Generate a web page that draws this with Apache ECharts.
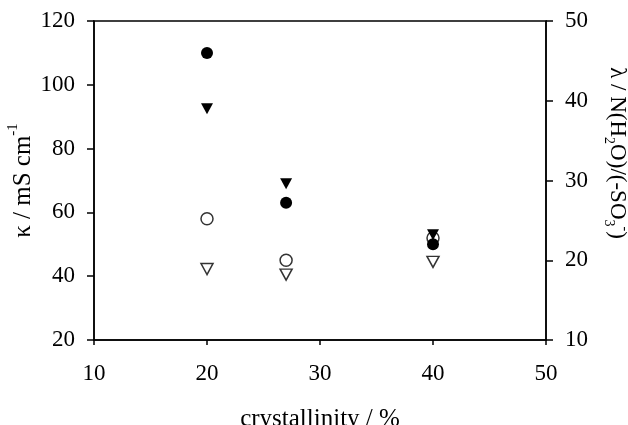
<!DOCTYPE html>
<html>
<head>
<meta charset="utf-8">
<script src="https://cdn.jsdelivr.net/npm/echarts@6/dist/echarts.min.js"></script>
<style>
  html, body { margin: 0; padding: 0; background: #fff; }
  #chart { width: 628px; height: 425px; }
</style>
</head>
<body>
<div id="chart"></div>
<script>
// crystallinity / %
const crystallinity = [20, 27, 40]
// kappa, left axis (mS cm-1)
const kappaFilled = [110, 63, 50]
const kappaOpen = [58, 45, 52]
// lambda, right axis
const lambdaFilled = [39, 29.6, 23.2]
const lambdaOpen = [18.9, 18.2, 19.8]

const xTicks = [10, 20, 30, 40, 50]
const leftTicks = [20, 40, 60, 80, 100, 120]
const rightTicks = [10, 20, 30, 40, 50]

const font = '"Liberation Serif", "Times New Roman", serif'

function pairs(xs, ys) {
  return xs.map((x, i) => [x, ys[i]])
}

const chart = echarts.init(document.getElementById('chart'))

const axisLine = { show: true, onZero: false, lineStyle: { color: '#000', width: 1.5 } }
const label = { color: '#000', fontFamily: font, fontSize: 23 }

chart.setOption({
  animation: false,
  grid: {
    left: 94, right: 82, top: 21, bottom: 85,
    containLabel: false,
    outerBoundsMode: 'none',
    show: true, borderColor: '#000', borderWidth: 1.5
  },
  xAxis: {
    type: 'value',
    min: xTicks[0], max: xTicks[xTicks.length - 1], interval: 10,
    name: 'crystallinity / %',
    nameLocation: 'middle',
    nameGap: 67,
    nameMoveOverlap: false,
    nameTextStyle: { color: '#000', fontFamily: font, fontSize: 25 },
    axisLine: axisLine,
    axisTick: { show: true, inside: false, length: 5, lineStyle: { color: '#000', width: 1.5 } },
    axisLabel: Object.assign({ margin: 22 }, label),
    splitLine: { show: false }
  },
  yAxis: [{
    type: 'value',
    position: 'left',
    min: leftTicks[0], max: leftTicks[leftTicks.length - 1], interval: 20,
    name: '{n|κ / mS cm}{s|-1}',
    nameLocation: 'middle',
    nameGap: 58,
    nameMoveOverlap: false,
    nameRotate: 90,
    nameTextStyle: {
      rich: {
        n: { color: '#000', fontFamily: font, fontSize: 25, lineHeight: 30, verticalAlign: 'bottom' },
        s: { color: '#000', fontFamily: font, fontSize: 15, lineHeight: 30, verticalAlign: 'top' }
      }
    },
    axisLine: axisLine,
    axisTick: { show: true, inside: false, length: 7, lineStyle: { color: '#000', width: 1.5 } },
    axisLabel: Object.assign({ margin: 19 }, label),
    splitLine: { show: false }
  }, {
    type: 'value',
    position: 'right',
    min: rightTicks[0], max: rightTicks[rightTicks.length - 1], interval: 10,
    name: '{n|λ / N(H}{b|2}{n|O)/(-SO}{b|3}{t|-}{n|)}',
    nameLocation: 'middle',
    nameGap: 56,
    nameMoveOverlap: false,
    nameRotate: -90,
    nameTextStyle: {
      padding: [0, 55, 0, 0],
      rich: {
        n: { color: '#000', fontFamily: font, fontSize: 23, lineHeight: 30 },
        b: { color: '#000', fontFamily: font, fontSize: 14, lineHeight: 30, verticalAlign: 'bottom' },
        t: { color: '#000', fontFamily: font, fontSize: 14, lineHeight: 30, verticalAlign: 'top' }
      }
    },
    axisLine: axisLine,
    axisTick: { show: true, inside: false, length: 7, lineStyle: { color: '#000', width: 1.5 } },
    axisLabel: Object.assign({ margin: 19 }, label),
    splitLine: { show: false }
  }],
  series: [{
    name: 'kappa open',
    type: 'scatter',
    yAxisIndex: 0,
    symbol: 'circle',
    symbolSize: 12,
    z: 2,
    itemStyle: { color: '#fff', borderColor: '#000', borderWidth: 1.5 },
    data: pairs(crystallinity, kappaOpen)
  }, {
    name: 'lambda open',
    type: 'scatter',
    yAxisIndex: 1,
    symbol: 'triangle',
    symbolRotate: 180,
    symbolSize: [12, 11],
    z: 2,
    itemStyle: { color: '#fff', borderColor: '#000', borderWidth: 1.5 },
    data: pairs(crystallinity, lambdaOpen)
  }, {
    name: 'lambda filled',
    type: 'scatter',
    yAxisIndex: 1,
    symbol: 'triangle',
    symbolRotate: 180,
    symbolSize: [12, 11],
    z: 3,
    itemStyle: { color: '#000', opacity: 1 },
    data: pairs(crystallinity, lambdaFilled)
  }, {
    name: 'kappa filled',
    type: 'scatter',
    yAxisIndex: 0,
    symbol: 'circle',
    symbolSize: 12,
    z: 4,
    itemStyle: { color: '#000', opacity: 1 },
    data: pairs(crystallinity, kappaFilled)
  }]
})
</script>
</body>
</html>
